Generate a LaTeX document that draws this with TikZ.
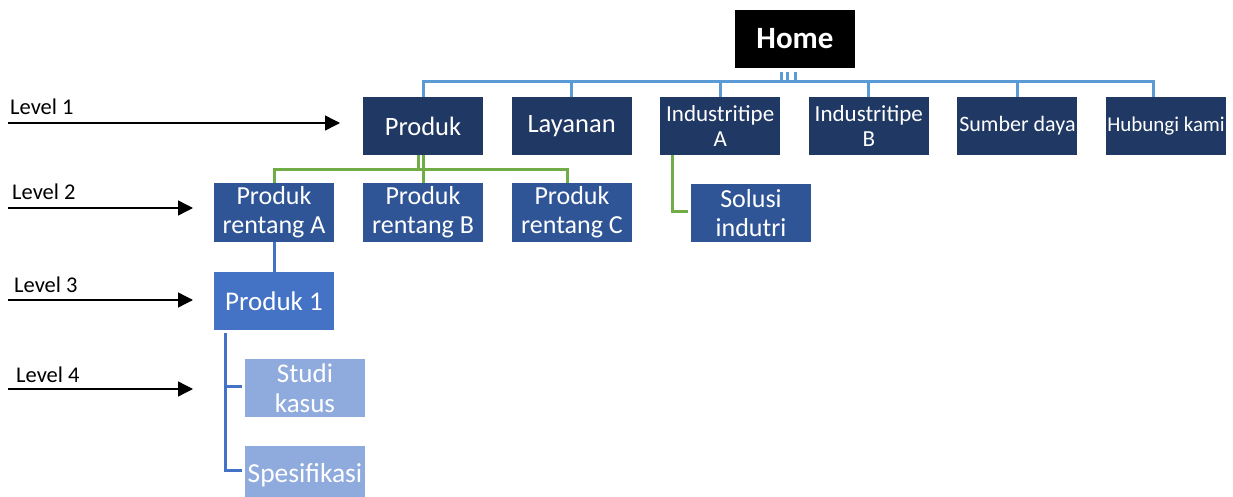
\documentclass[tikz,border=0pt]{standalone}
\usepackage{fontspec}
\setmainfont{Carlito}
\usetikzlibrary{arrows.meta}
\definecolor{navy}{HTML}{203864}
\definecolor{midblue}{HTML}{2F5597}
\definecolor{blue3}{HTML}{4472C4}
\definecolor{pale}{HTML}{8FAADC}
\definecolor{busblue}{HTML}{5B9BD5}
\definecolor{busgreen}{HTML}{70AD47}
\newcommand{\fs}[2]{\fontsize{#1}{#2}\selectfont}
\tikzset{
  box/.style={minimum width=120pt, minimum height=58pt, inner sep=0pt,
              align=center, text=white},
  lvA/.style={box, fill=navy},
  lvB/.style={box, fill=midblue},
  lvC/.style={box, fill=blue3},
  lvD/.style={box, fill=pale},
  homebox/.style={box, fill=black, font=\fs{31}{34}\bfseries},
  bigtxt/.style={font=\fs{26.5}{30}},
  smalltxt/.style={font=\fs{23}{25}},
  midtxt/.style={font=\fs{26}{29}},
  conA/.style={draw=busblue, line width=3pt},
  conB/.style={draw=busgreen, line width=3pt},
  conC/.style={draw=blue3, line width=3pt},
  lvltxt/.style={anchor=base west, inner sep=0pt, font=\fs{22.5}{24}},
  arr/.style={draw=black, line width=1.4pt, -{Triangle[length=15pt,width=15pt]}}
}
\begin{document}
\begin{tikzpicture}[x=1pt, y=-1pt]
\useasboundingbox (0,0) rectangle (1233,497);

% top of the tree
\node[homebox] (home) at (795,39) {Home};

% level 1
\node[lvA, bigtxt]   (produk)  at (423,126)    {Produk};
\node[lvA, bigtxt]   (layanan) at (571.6,126)  {Layanan};
\node[lvA, smalltxt] (indA)    at (720.2,126)  {Industritipe\\A};
\node[lvA, smalltxt] (indB)    at (868.8,126)  {Industritipe\\B};
\node[lvA, font=\fs{22}{25}] (sumber) at (1017.4,126) {Sumber daya};
\node[lvA, font=\fs{21}{25}] (hub)    at (1166,126)   {Hubungi kami};

% level 2
\node[lvB, midtxt] (rA)     at (274,212.5) {Produk\\rentang A};
\node[lvB, midtxt] (rB)     at (423,212.5) {Produk\\rentang B};
\node[lvB, midtxt] (rC)     at (572,212.5) {Produk\\rentang C};
\node[lvB, midtxt] (solusi) at (751,213)   {Solusi\\indutri};

% level 3
\node[lvC, font=\fs{27}{29}] (p1) at (274,301) {Produk 1};

% level 4
\node[lvD, font=\fs{27}{30}] (studi) at (305,388) {Studi\\kasus};
\node[lvD, font=\fs{27.5}{30}] (spes)  at (305,475) {Spesifikasi};

% bus from Home to level 1
\coordinate (bus) at (423,82);
\draw[conA] (produk.north) |- ([xshift=-13pt]hub.north |- bus) -- ([xshift=-13pt]hub.north);
\foreach \n in {layanan, indA, indB, sumber}
  \draw[conA] (\n.north) -- (\n.north |- bus);
\foreach \dx in {0, -8, -14}
  \draw[conA] ([xshift=\dx pt, yshift=-4pt]home.south) -- ([xshift=\dx pt]home.south |- bus);

% Produk to level 2
\coordinate (gbus) at (423,170);
\draw[conB] (produk.south) -- (rB.north);
\draw[conB] ([xshift=-5pt]produk.south) -- ([xshift=-5pt]produk.south |- gbus);
\draw[conB] (rA.north) |- ([xshift=-5pt]rC.north |- gbus) -- ([xshift=-5pt]rC.north);

% Industritipe A to Solusi indutri
\draw[conB] ([xshift=-48pt]indA.south) |- ([xshift=-3pt, yshift=2pt]solusi.west);

% level 2 to level 3
\draw[conC] (rA.south) -- (p1.north);

% level 3 to level 4
\draw[conC] ([xshift=-49pt, yshift=-3pt]p1.south) |- ([xshift=-3pt, yshift=2pt]studi.west);
\draw[conC] ([xshift=-49pt, yshift=-3pt]p1.south) |- ([xshift=-3pt, yshift=5pt]spes.west);

% level markers on the left
\node[lvltxt] (t1) at (10,115) {Level 1};
\node[lvltxt] (t2) at (12,199) {Level 2};
\node[lvltxt] (t3) at (14,292) {Level 3};
\node[lvltxt] (t4) at (16,382) {Level 4};
\coordinate (a1s) at (8,123);  \coordinate (a1e) at (340,123);
\coordinate (a2s) at (8,208);  \coordinate (a2e) at (193,208);
\coordinate (a3s) at (8,300);  \coordinate (a3e) at (193,300);
\coordinate (a4s) at (8,389);  \coordinate (a4e) at (193,389);
\draw[arr] (a1s) -- (a1e);
\draw[arr] (a2s) -- (a2e);
\draw[arr] (a3s) -- (a3e);
\draw[arr] (a4s) -- (a4e);
\end{tikzpicture}
\end{document}
